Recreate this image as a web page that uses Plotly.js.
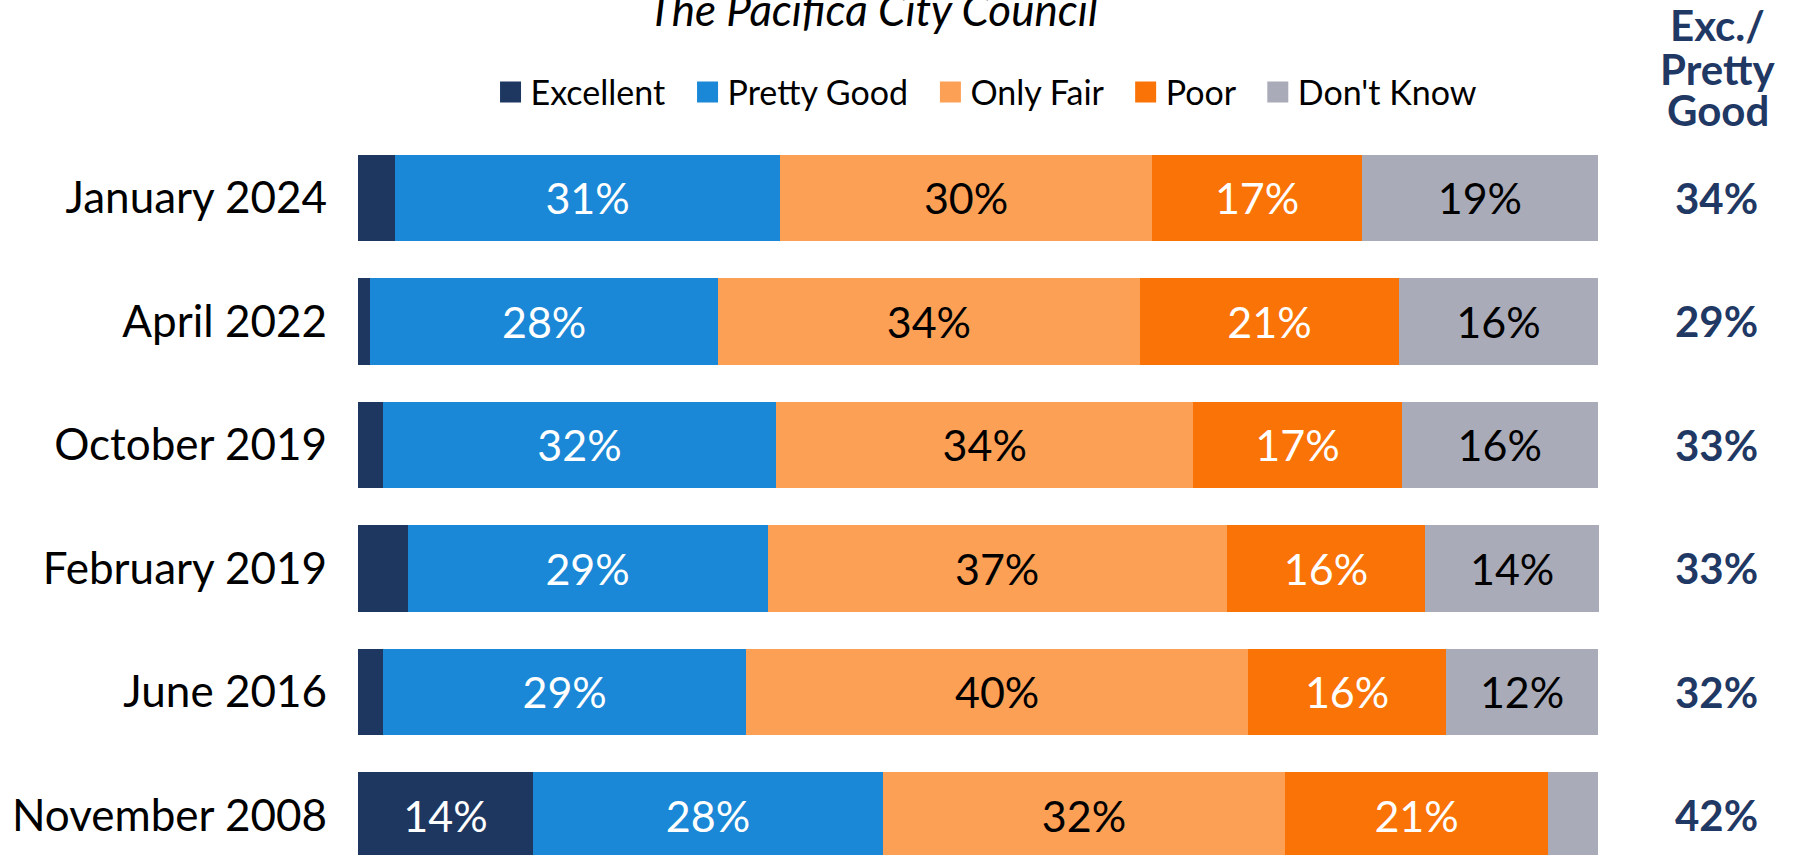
<!DOCTYPE html>
<html>
<head>
<meta charset="utf-8">
<script src="https://cdn.plot.ly/plotly-3.0.1.min.js"></script>
<style>
html, body { margin: 0; padding: 0; background: #ffffff; }
#chart { width: 1793px; height: 855px; }
</style>
</head>
<body>
<div id="chart"></div>
<script>
// ---- Data ----
var categories = ['January 2024', 'April 2022', 'October 2019', 'February 2019', 'June 2016', 'November 2008'];
var excellent  = [3.0, 1.0, 2.0, 4.0, 2.0, 14.1];
var prettyGood = [31.0, 28.0, 31.7, 29.0, 29.3, 28.2];
var onlyFair   = [30.0, 34.0, 33.6, 37.0, 40.4, 32.4];
var poor       = [16.9, 20.9, 16.8, 16.0, 16.0, 21.2];
var dontKnow   = [19.0, 16.0, 15.8, 14.0, 12.2, 4.0];
var excPrettyGood = ['34%', '29%', '33%', '33%', '32%', '42%'];
var seriesNames = ['Excellent', 'Pretty Good', 'Only Fair', 'Poor', "Don't Know"];
var chartTitle = 'The Pacifica City Council';
var columnHeader = ['Exc./', 'Pretty', 'Good'];

// ---- Styles ----
var colors = ['#1e3761', '#1a88d6', '#fca056', '#f97306', '#a9abb8'];
var textColors = ['#ffffff', '#ffffff', '#000000', '#ffffff', '#000000'];
var navy = '#1f3864';
var FONT = 'Lato, "Noto Sans", sans-serif';
var PAD = '\u00a0\u00a0';

var seriesValues = [excellent, prettyGood, onlyFair, poor, dontKnow];

function labels(vals) {
  return vals.map(function (v) { return v >= 5 ? Math.round(v) + '%' : ''; });
}

var traces = seriesValues.map(function (vals, i) {
  return {
    type: 'bar',
    orientation: 'h',
    name: seriesNames[i],
    x: vals,
    y: categories,
    text: labels(vals),
    textposition: 'inside',
    insidetextanchor: 'middle',
    textangle: 0,
    constraintext: 'none',
    textfont: { family: FONT, size: 43, color: textColors[i] },
    marker: { color: colors[i], line: { width: 0 } },
    showlegend: false,
    hoverinfo: 'skip'
  };
});

// legend entries (larger square swatches than the bar legend symbol)
seriesNames.forEach(function (n, i) {
  traces.push({
    type: 'scatter',
    mode: 'markers',
    name: i < seriesNames.length - 1 ? n + PAD : n,
    x: [null],
    y: [null],
    marker: { symbol: 'square', size: 16, color: colors[i], line: { color: colors[i], width: 5 } },
    showlegend: true,
    hoverinfo: 'skip'
  });
});

var annotations = [];
// title
annotations.push({
  xref: 'paper', yref: 'paper', x: 0.4146, y: 1.1766,
  xanchor: 'center', yanchor: 'middle', showarrow: false,
  text: '<i>' + chartTitle + '</i>',
  font: { family: FONT, size: 44, color: '#000000' }
});
// right column header
var headerY = [25.3, 69, 110.3];
columnHeader.forEach(function (t, i) {
  annotations.push({
    xref: 'paper', yref: 'paper', x: 1.0955, y: 1 + (136 - headerY[i]) / 719,
    xanchor: 'center', yanchor: 'middle', showarrow: false,
    text: '<b>' + t + '</b>',
    font: { family: FONT, size: 42, color: navy }
  });
});
// right column values
categories.forEach(function (c, i) {
  annotations.push({
    xref: 'paper', yref: 'y', x: 1.0944, y: c,
    xanchor: 'center', yanchor: 'middle', showarrow: false,
    text: '<b>' + excPrettyGood[i] + '</b>',
    font: { family: FONT, size: 42, color: navy }
  });
});

var layout = {
  width: 1793,
  height: 855,
  margin: { l: 358, r: 194, t: 136, b: 0, pad: 0 },
  paper_bgcolor: '#ffffff',
  plot_bgcolor: '#ffffff',
  barmode: 'stack',
  bargap: 0.3,
  showlegend: true,
  legend: {
    orientation: 'h',
    x: 0.1068, xanchor: 'left',
    y: 1.0606, yanchor: 'middle',
    traceorder: 'normal',
    font: { family: FONT, size: 34, color: '#000000' },
    bgcolor: 'rgba(0,0,0,0)'
  },
  xaxis: {
    range: [0, 100],
    visible: false,
    showgrid: false,
    zeroline: false,
    fixedrange: true
  },
  yaxis: {
    type: 'category',
    categoryorder: 'array',
    categoryarray: categories,
    range: [5.32, -0.5],
    showgrid: false,
    zeroline: false,
    showline: false,
    ticks: '',
    ticklabelstandoff: 30,
    tickfont: { family: FONT, size: 44, color: '#000000' },
    fixedrange: true
  },
  annotations: annotations,
  hovermode: false
};

Plotly.newPlot('chart', traces, layout, { displayModeBar: false, staticPlot: true });
</script>
</body>
</html>
